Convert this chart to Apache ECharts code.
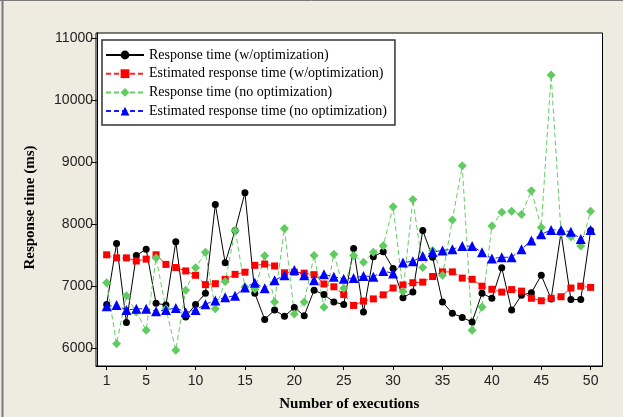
<!DOCTYPE html>
<html>
<head>
<meta charset="utf-8">
<script src="https://cdn.jsdelivr.net/npm/echarts@6/dist/echarts.min.js"></script>
<style>
  html, body { margin: 0; padding: 0; background: #eeebe1; }
  #main { width: 623px; height: 417px; }
</style>
</head>
<body>
<div id="main"></div>
<script>
// number of executions
const executions = [1,2,3,4,5,6,7,8,9,10,11,12,13,14,15,16,17,18,19,20,21,22,23,24,25,
  26,27,28,29,30,31,32,33,34,35,36,37,38,39,40,41,42,43,44,45,46,47,48,49,50];
const xTicks = [1,5,10,15,20,25,30,35,40,45,50];
const yTicks = [6000,7000,8000,9000,10000,11000];

// response time (ms)
const respOpt = [6710,7690,6420,7500,7600,6730,6700,7720,6510,6710,6890,8320,7380,7900,8510,
  6890,6470,6620,6520,6660,6530,6940,6870,6750,6710,7610,6590,7480,7560,7290,
  6820,6910,7900,7470,6750,6570,6500,6430,6890,6810,7300,6620,6860,6900,7180,
  6800,7870,6790,6790,7900];
const estOpt = [7510,7460,7460,7410,7440,7510,7355,7305,7250,7180,7030,7045,7115,7195,7230,
  7340,7360,7330,7220,7230,7215,7190,7040,6995,6870,6695,6765,6800,6865,6975,
  7025,7060,7070,7160,7235,7235,7135,7115,7005,6955,6910,6950,6925,6810,6770,
  6810,6835,6975,7005,6985];
const respNoOpt = [7060,6080,6850,6590,6295,7460,6640,5975,6940,7300,7550,6640,7080,7900,6990,
  6955,7495,6750,7935,6555,6750,7500,6665,7520,6970,7500,7390,7550,7655,8285,
  6920,8400,7305,7580,7180,8070,8945,6295,6670,7975,8195,8210,8160,8540,7950,
  10405,7865,7800,7650,8210];
const estNoOpt = [6680,6700,6620,6640,6640,6600,6620,6655,6585,6620,6715,6775,6825,6850,6985,
  7060,6970,7100,7180,7265,7180,7100,7195,7155,7125,7135,7170,7155,7250,7210,
  7385,7405,7490,7555,7580,7600,7650,7650,7550,7450,7470,7470,7600,7740,7840,
  7910,7910,7880,7765,7910];

function pairs(vals) {
  return executions.map((x, i) => [x, vals[i]]);
}

const chart = echarts.init(document.getElementById('main'));
const option = {
  backgroundColor: '#eeebe1',
  animation: false,
  graphic: [
    { type: 'line', shape: { x1: 2.5, y1: 0, x2: 2.5, y2: 417 }, style: { stroke: '#7a7a7a', lineWidth: 2 } },
    { type: 'line', shape: { x1: 0, y1: 0.5, x2: 623, y2: 0.5 }, style: { stroke: '#7a7a7a', lineWidth: 1 } }
  ],
  grid: {
    left: 96, right: 20.5, top: 33, bottom: 51,
    show: true, backgroundColor: '#fff', borderColor: '#000', borderWidth: 1
  },
  legend: {
    orient: 'vertical',
    left: 102, top: 40,
    padding: [8, 8, 7, 3],
    itemWidth: 38, itemHeight: 11, itemGap: 4.7,
    backgroundColor: '#fff',
    borderColor: '#333', borderWidth: 1.5,
    textStyle: { fontFamily: 'Liberation Serif', fontSize: 14, color: '#000' }
  },
  xAxis: {
    type: 'value',
    min: -0.08, max: 51.2,
    name: 'Number of executions',
    nameLocation: 'middle',
    nameGap: 31,
    nameTextStyle: { fontFamily: 'Liberation Serif', fontWeight: 'bold', fontSize: 15, color: '#000' },
    splitLine: { show: false },
    axisLine: { lineStyle: { color: '#000' } },
    axisTick: { customValues: xTicks, length: 4, lineStyle: { color: '#000' } },
    axisLabel: { customValues: xTicks, margin: 8, fontFamily: 'Liberation Sans', fontSize: 14, color: '#222' }
  },
  yAxis: {
    type: 'value',
    min: 5720, max: 11080,
    name: 'Response time (ms)',
    nameLocation: 'middle',
    nameGap: 58,
    nameTextStyle: { fontFamily: 'Liberation Serif', fontWeight: 'bold', fontSize: 15, color: '#000', padding: [0, 16, 0, 0] },
    splitLine: { show: false },
    axisLine: { show: true, lineStyle: { color: '#000' } },
    axisTick: { customValues: yTicks, length: 6, lineStyle: { color: '#000' } },
    axisLabel: { customValues: yTicks, margin: 3, fontFamily: 'Liberation Sans', fontSize: 14, color: '#222',
      formatter: v => String(v) }
  },
  series: [
    {
      name: 'Response time (w/optimization)',
      type: 'line',
      data: pairs(respOpt),
      symbol: 'circle', symbolSize: 7,
      color: '#000',
      lineStyle: { color: '#000', width: 1 },
      itemStyle: { color: '#000' }
    },
    {
      name: 'Estimated response time (w/optimization)',
      type: 'line',
      data: pairs(estOpt),
      symbol: 'rect', symbolSize: 7,
      color: '#ff0000',
      lineStyle: { color: '#ff2020', width: 1, type: [5, 3] },
      itemStyle: { color: '#ff0000' }
    },
    {
      name: 'Response time (no optimization)',
      type: 'line',
      data: pairs(respNoOpt),
      symbol: 'diamond', symbolSize: 9,
      color: '#5fcc5f',
      lineStyle: { color: '#66cc66', width: 1, type: [5, 3] },
      itemStyle: { color: '#5fcc5f' }
    },
    {
      name: 'Estimated response time (no optimization)',
      type: 'line',
      data: pairs(estNoOpt),
      symbol: 'triangle', symbolSize: 10,
      color: '#0000ff',
      lineStyle: { color: '#1a1aff', width: 1, type: [5, 3] },
      itemStyle: { color: '#0000ff' }
    }
  ]
};
chart.setOption(option);
</script>
</body>
</html>
